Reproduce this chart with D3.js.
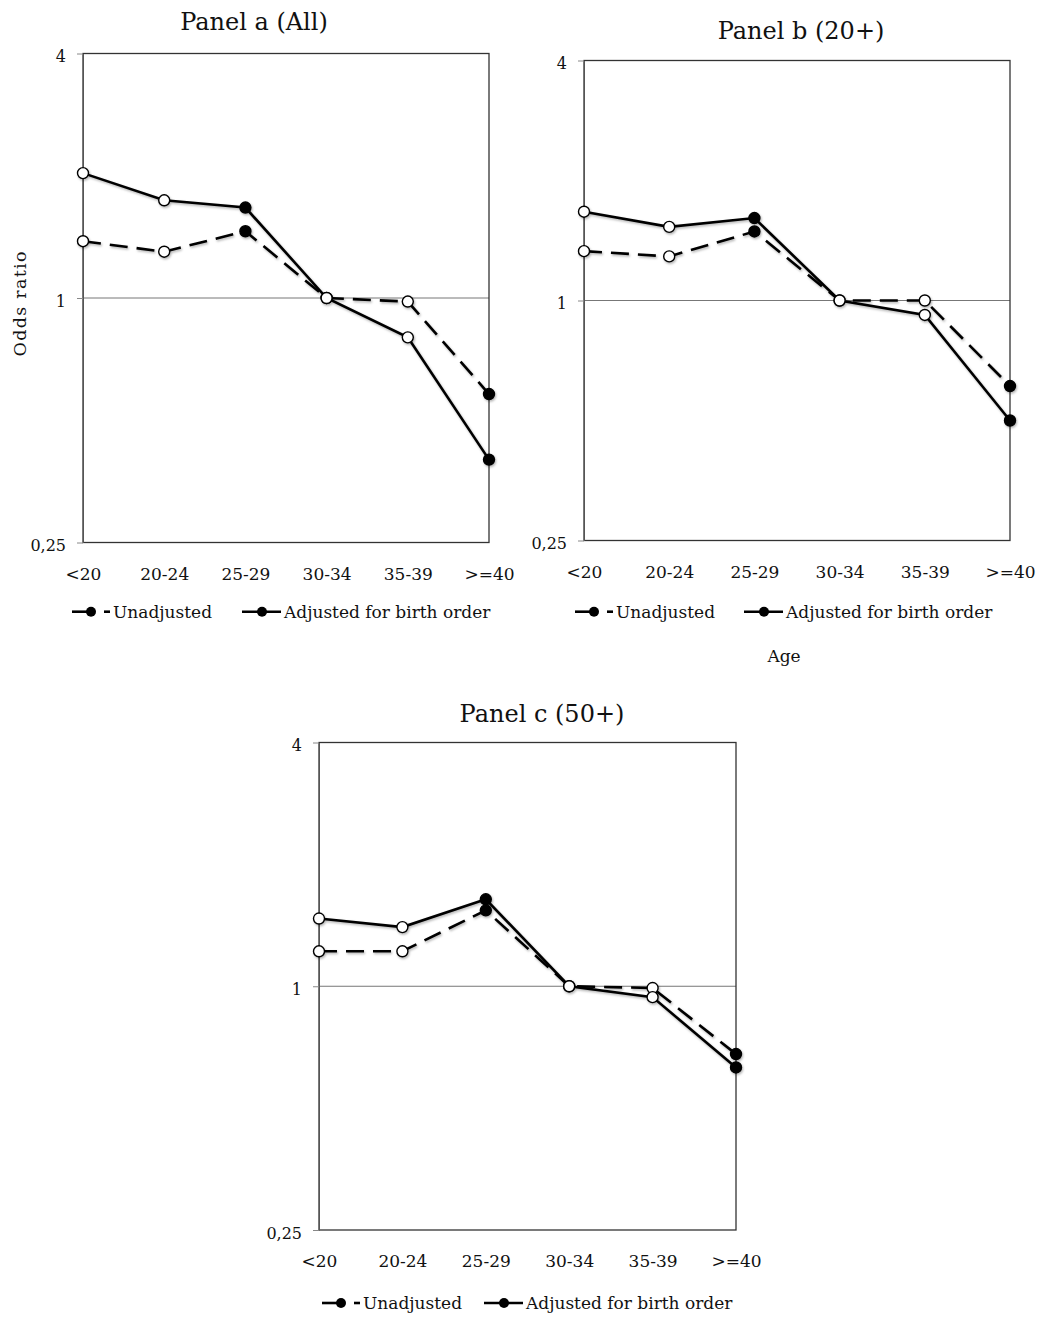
<!DOCTYPE html>
<html>
<head>
<meta charset="utf-8">
<script src="https://cdn.jsdelivr.net/npm/d3@7"></script>
<style>
  body { margin: 0; background: white; }
  text { font-family: 'DejaVu Serif', serif; fill: #111; }
</style>
</head>
<body>
<div class="container"></div>
<script>
const ageGroups = ['<20', '20-24', '25-29', '30-34', '35-39', '>=40']
const yTicks = [0.25, 1, 4]
const panelTitles = ['Panel a (All)', 'Panel b (20+)', 'Panel c (50+)']
const seriesNames = ['Unadjusted', 'Adjusted for birth order']

// odds ratios
const unadjustedA = [1.38, 1.30, 1.46, 1, 0.98, 0.58]
const adjustedA   = [2.03, 1.74, 1.67, 1, 0.80, 0.40]
const unadjustedB = [1.33, 1.29, 1.49, 1, 1.00, 0.61]
const adjustedB   = [1.67, 1.53, 1.61, 1, 0.92, 0.50]
const unadjustedC = [1.22, 1.22, 1.54, 1, 0.99, 0.68]
const adjustedC   = [1.47, 1.40, 1.64, 1, 0.94, 0.63]
// filled marker = significant
const significant = [false, false, true, false, false, true]

const panels = [
    {title: panelTitles[0], unadj: unadjustedA, adj: adjustedA,
     left: 83, right: 489, top: 53.5, bottom: 542.5, titleX: 254, titleY: 30,
     legendY: 611.7, legendX: [72, 242], yLabel: true},
    {title: panelTitles[1], unadj: unadjustedB, adj: adjustedB,
     left: 584, right: 1010, top: 60.5, bottom: 540.5, titleX: 801, titleY: 39,
     legendY: 611.7, legendX: [575, 744], xLabel: true},
    {title: panelTitles[2], unadj: unadjustedC, adj: adjustedC,
     left: 319, right: 736, top: 742.5, bottom: 1230, titleX: 542, titleY: 722,
     legendY: 1303, legendX: [322, 484]},
]

const svg = d3.select('.container')
    .append('svg')
    .attr('width', 1049)
    .attr('height', 1318)

svg.append('rect')
    .attr('width', 1049)
    .attr('height', 1318)
    .attr('fill', 'white')

const defs = svg.append('defs')
defs.append('filter')
    .attr('id', 'shadow')
    .attr('x', '-20%').attr('y', '-20%')
    .attr('width', '140%').attr('height', '140%')
    .append('feDropShadow')
    .attr('dx', 1)
    .attr('dy', 1.5)
    .attr('stdDeviation', 1)
    .attr('flood-opacity', 0.3)

panels.forEach(p => {
    const g = svg.append('g')

    const x = d3.scalePoint()
        .domain(ageGroups)
        .range([p.left, p.right])

    const y = d3.scaleLog()
        .domain([0.25, 4])
        .range([p.bottom, p.top])

    // title
    g.append('text')
        .text(p.title)
        .attr('x', p.titleX)
        .attr('y', p.titleY)
        .attr('text-anchor', 'middle')
        .attr('font-size', 24)

    // reference line at 1
    g.append('line')
        .attr('x1', p.left)
        .attr('x2', p.right)
        .attr('y1', y(1))
        .attr('y2', y(1))
        .attr('stroke', '#777')
        .attr('stroke-width', 1)

    // frame
    g.append('rect')
        .attr('x', p.left)
        .attr('y', p.top)
        .attr('width', p.right - p.left)
        .attr('height', p.bottom - p.top)
        .attr('fill', 'none')
        .attr('stroke', '#333')
        .attr('stroke-width', 1.3)

    // y axis
    const yAxis = g.append('g')
        .attr('transform', `translate(${p.left},0)`)
        .call(d3.axisLeft(y)
            .tickValues(yTicks)
            .tickSize(6)
            .tickSizeOuter(0)
            .tickPadding(11)
            .tickFormat(d => ('' + d).replace('.', ',')))
    yAxis.select('.domain').attr('stroke', '#555')
    yAxis.selectAll('.tick line').attr('stroke', '#888')
    yAxis.selectAll('.tick text')
        .attr('font-family', 'DejaVu Serif')
        .attr('font-size', 16)
        .attr('fill', '#111')
        .attr('dy', '0.65em')
        .attr('y', -2)

    // x axis
    const xAxis = g.append('g')
        .attr('transform', `translate(0,${p.bottom})`)
        .call(d3.axisBottom(x).tickSize(0).tickPadding(25))
    xAxis.select('.domain').remove()
    xAxis.selectAll('.tick text')
        .attr('font-family', 'DejaVu Serif')
        .attr('font-size', 17)
        .attr('fill', '#111')

    if(p.yLabel) {
        g.append('text')
            .text('Odds ratio')
            .attr('transform', 'translate(26,304) rotate(-90)')
            .attr('text-anchor', 'middle')
            .attr('font-size', 17.5)
            .attr('textLength', 105)
            .attr('lengthAdjust', 'spacing')
    }
    if(p.xLabel) {
        g.append('text')
            .text('Age')
            .attr('x', 784)
            .attr('y', 662)
            .attr('text-anchor', 'middle')
            .attr('font-size', 17)
    }

    // series
    const line = d3.line()
        .x((d, i) => x(ageGroups[i]))
        .y(d => y(d))

    const series = [
        {values: p.unadj, dash: '18,9'},
        {values: p.adj, dash: null},
    ]

    const sg = g.append('g').attr('filter', 'url(#shadow)')
    series.forEach(s => {
        sg.append('path')
            .datum(s.values)
            .attr('d', line)
            .attr('fill', 'none')
            .attr('stroke', 'black')
            .attr('stroke-width', 2.6)
            .attr('stroke-dasharray', s.dash)
    })
    series.forEach(s => {
        sg.selectAll(null)
            .data(s.values)
            .enter()
            .append('circle')
            .attr('cx', (d, i) => x(ageGroups[i]))
            .attr('cy', d => y(d))
            .attr('r', 5.5)
            .attr('fill', (d, i) => significant[i] ? 'black' : 'white')
            .attr('stroke', 'black')
            .attr('stroke-width', 1.4)
    })

    // legend
    const ly = p.legendY
    const lg = g.append('g')
    // unadjusted sample: long dash with dot, then a short dash
    const ux = p.legendX[0]
    lg.append('line')
        .attr('x1', ux).attr('x2', ux + 19)
        .attr('y1', ly).attr('y2', ly)
        .attr('stroke', 'black').attr('stroke-width', 2.6)
    lg.append('line')
        .attr('x1', ux + 32).attr('x2', ux + 38)
        .attr('y1', ly).attr('y2', ly)
        .attr('stroke', 'black').attr('stroke-width', 2.6)
    lg.append('circle')
        .attr('cx', ux + 19).attr('cy', ly)
        .attr('r', 5).attr('fill', 'black')
    lg.append('text')
        .text(seriesNames[0])
        .attr('x', ux + 41)
        .attr('y', ly + 6)
        .attr('font-size', 17)

    const ax = p.legendX[1]
    lg.append('line')
        .attr('x1', ax).attr('x2', ax + 39)
        .attr('y1', ly).attr('y2', ly)
        .attr('stroke', 'black').attr('stroke-width', 2.6)
    lg.append('circle')
        .attr('cx', ax + 20).attr('cy', ly)
        .attr('r', 5).attr('fill', 'black')
    lg.append('text')
        .text(seriesNames[1])
        .attr('x', ax + 42)
        .attr('y', ly + 6)
        .attr('font-size', 17)
})
</script>
</body>
</html>
